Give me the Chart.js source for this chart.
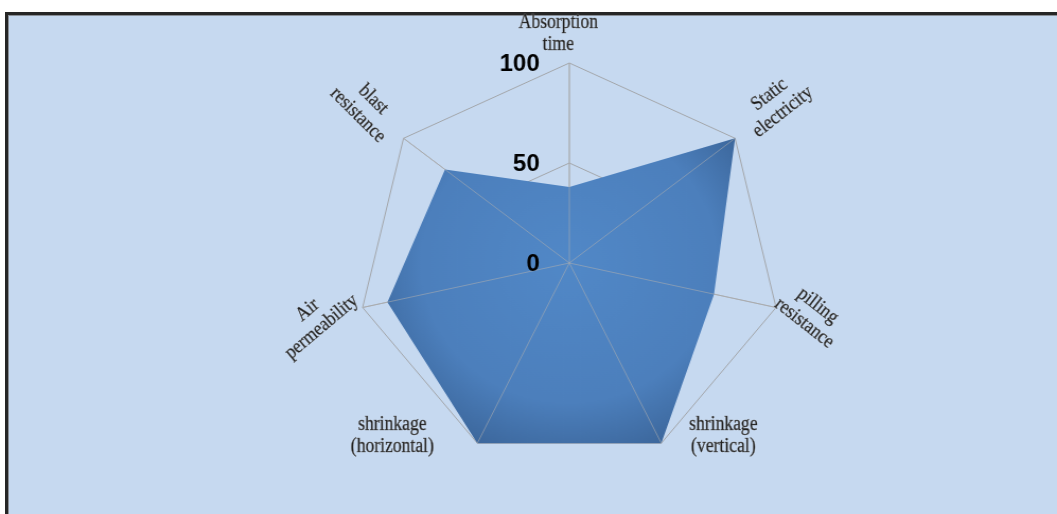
<!DOCTYPE html>
<html>
<head>
<meta charset="utf-8">
<title>Radar</title>
<script src="https://cdn.jsdelivr.net/npm/chart.js@4/dist/chart.umd.min.js"></script>
<style>
  html, body { margin: 0; padding: 0; background: #fff; overflow: hidden; }
  #frame {
    position: absolute; left: 5px; top: 12px; width: 1070px; height: 520px;
    background: #c6d9f0;
    border-top: 3px solid #262626; border-left: 3px solid #262626;
    box-shadow: inset 1px 1px 0 #8a8f96;
  }
  #chart { position: absolute; left: 0; top: 0; }
</style>
</head>
<body>
<div id="frame"></div>
<canvas id="chart" width="997" height="514" style="width:1057px;height:514px"></canvas>
<script>
const categories = [
  ['Absorption', 'time'],
  ['Static', 'electricity'],
  ['pilling', 'resistance'],
  ['shrinkage', '(vertical)'],
  ['shrinkage', '(horizontal)'],
  ['Air', 'permeability'],
  ['blast', 'resistance']
];
const scores = [38, 100, 70, 100, 100, 88, 75];
const tickValues = [0, 50, 100];

// the canvas is drawn narrower and widened by css, so the web comes out a bit oval
const stretch = 1057 / 997;

// where each axis name sits, relative to the outer vertex (screen px), and its tilt
const labelOffsets = [[-11, -29], [41, -35], [35, 7], [62, -7], [-85, -7], [-48, 11], [-38, -31]];
const labelAngles = [0, -38, 38, 0, 0, -40, 45];

function webFill(context) {
  const chart = context.chart;
  const r = chart.scales.r;
  if (!r || !chart.chartArea) return '#4f81bd';
  const g = chart.ctx.createRadialGradient(r.xCenter, r.yCenter, 0, r.xCenter, r.yCenter, r.drawingArea);
  g.addColorStop(0, '#5188c7');
  g.addColorStop(0.7, '#4c7fbc');
  g.addColorStop(1, '#3c679c');
  return g;
}

const webLabels = {
  id: 'webLabels',
  // spokes show through the filled area, the rings stay behind it
  afterDatasetsDraw(chart) {
    const r = chart.scales.r;
    const ctx = chart.ctx;
    ctx.save();
    ctx.strokeStyle = 'rgba(175,175,175,0.55)';
    ctx.lineWidth = 1;
    categories.forEach((c, i) => {
      const p = r.getPointPositionForValue(i, 100);
      ctx.beginPath();
      ctx.moveTo(r.xCenter, r.yCenter);
      ctx.lineTo(p.x, p.y);
      ctx.stroke();
    });
    ctx.restore();
  },
  afterDraw(chart) {
    const r = chart.scales.r;
    const ctx = chart.ctx;
    ctx.save();

    // scale values, left of the vertical axis
    ctx.font = 'bold 24px "Liberation Sans", Arial, sans-serif';
    ctx.fillStyle = '#000';
    ctx.textAlign = 'right';
    ctx.textBaseline = 'middle';
    tickValues.forEach(v => {
      const p = r.getPointPositionForValue(0, v);
      ctx.save();
      ctx.translate(r.xCenter - 28, p.y + 1);
      ctx.scale(1 / stretch, 1);
      ctx.fillText(String(v), 0, 0);
      ctx.restore();
    });

    // axis names
    ctx.font = '20px "Liberation Serif", "Times New Roman", serif';
    ctx.textAlign = 'center';
    ctx.fillStyle = '#111';
    ctx.strokeStyle = 'rgba(20,20,20,0.6)';
    ctx.lineWidth = 0.5;
    ctx.shadowColor = 'rgba(255,255,255,0.6)';
    ctx.shadowBlur = 1;
    categories.forEach((lines, i) => {
      const p = r.getPointPositionForValue(i, 100);
      const off = labelOffsets[i];
      ctx.save();
      ctx.translate(p.x + off[0] / stretch, p.y + off[1]);
      ctx.scale(1 / stretch, 1);
      ctx.rotate(labelAngles[i] * Math.PI / 180);
      ctx.scale(0.88, 1);
      lines.forEach((t, j) => {
        const y = (j - (lines.length - 1) / 2) * 22;
        ctx.fillText(t, 0, y);
        ctx.strokeText(t, 0, y);
      });
      ctx.restore();
    });
    ctx.restore();
  }
};

new Chart(document.getElementById('chart'), {
  type: 'radar',
  data: {
    labels: categories,
    datasets: [{
      data: scores,
      fill: true,
      backgroundColor: webFill,
      borderWidth: 0,
      pointRadius: 0
    }]
  },
  options: {
    responsive: false,
    animation: false,
    devicePixelRatio: 1,
    layout: { padding: { left: 290, right: 212, top: 63, bottom: 51 } },
    plugins: { legend: { display: false }, tooltip: { enabled: false } },
    scales: {
      r: {
        min: 0,
        max: 100,
        ticks: { display: false, stepSize: 50 },
        pointLabels: { display: false },
        grid: { color: '#a3a6aa', lineWidth: 1 },
        angleLines: { color: '#a3a6aa', lineWidth: 1 }
      }
    }
  },
  plugins: [webLabels]
});
</script>
</body>
</html>
